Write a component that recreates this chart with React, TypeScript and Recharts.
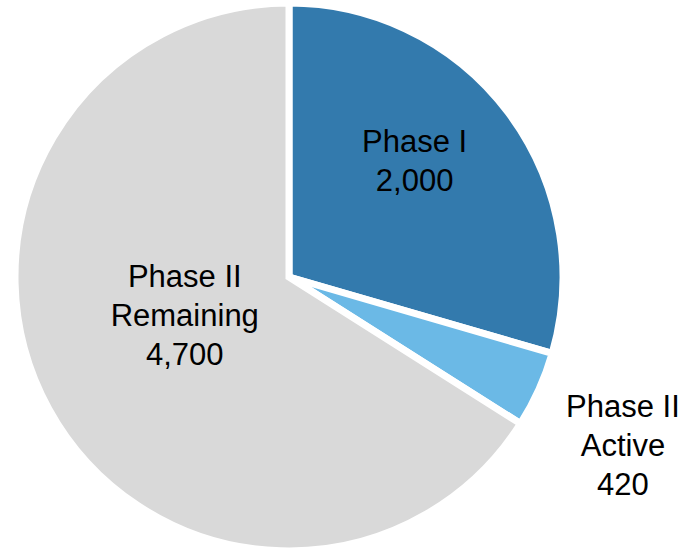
import { PieChart, Pie, Cell } from 'recharts';

const names = [['Phase I'], ['Phase II', 'Active'], ['Phase II', 'Remaining']];
// slice sizes as drawn in the picture (angles measured), labels as printed
const values = [2100, 320, 4700];
const valueLabels = ['2,000', '420', '4,700'];
const colors = ['#337AAD', '#6BB9E6', '#D9D9D9'];

// label placement per slice: distance from centre and angle shift (deg, ccw)
const labelLayout = [
    { r: 171, shift: 5.8 },
    { r: 374, shift: -2.5 },
    { r: 111, shift: -8.7 },
];

const RADIAN = Math.PI / 180;
const LINE_H = 39;

const data = values.map((v, i) => ({ name: names[i].join(' '), value: v }));

function renderLabel(props: any) {
    const { cx, cy, midAngle, index } = props;
    const lay = labelLayout[index];
    const a = (midAngle + lay.shift) * RADIAN;
    const x = cx + lay.r * Math.cos(-a);
    const y = cy + lay.r * Math.sin(-a);
    const lines = [...names[index], valueLabels[index]];
    const n = lines.length;
    return (
        <text
            x={x}
            y={y}
            textAnchor="middle"
            fill="#000"
            fontSize={31}
            fontFamily="'Liberation Sans', Arial, sans-serif"
        >
            {lines.map((t, i) => (
                <tspan key={i} x={x} y={y + (i - (n - 1) / 2) * LINE_H} dominantBaseline="central">
                    {t}
                </tspan>
            ))}
        </text>
    );
}

export default function App() {
    return (
        <div style={{ position: 'fixed', left: 0, top: 0, width: 698, height: 549, background: '#fff' }}>
            <PieChart width={698} height={549} margin={{ top: 0, right: 0, bottom: 0, left: 0 }}>
                <Pie
                    data={data}
                    dataKey="value"
                    cx={289}
                    cy={277}
                    outerRadius={274}
                    startAngle={90}
                    endAngle={-270}
                    stroke="#fff"
                    strokeWidth={7}
                    label={renderLabel}
                    labelLine={false}
                    isAnimationActive={false}
                >
                    {data.map((d, i) => (
                        <Cell key={d.name} fill={colors[i]} />
                    ))}
                </Pie>
            </PieChart>
        </div>
    );
}
